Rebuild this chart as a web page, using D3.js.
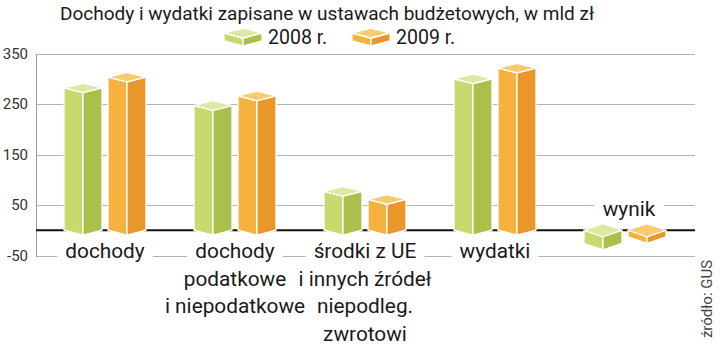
<!DOCTYPE html>
<html><head><meta charset="utf-8">
<script src="https://cdn.jsdelivr.net/npm/d3@7"></script>
<style>
html,body{margin:0;padding:0;background:#fff;}
svg{display:block;font-family:Roboto, "Liberation Sans", Arial, sans-serif;}
</style></head>
<body>
<svg id="chart" width="720" height="346"></svg>
<script>
const title = "Dochody i wydatki zapisane w ustawach budżetowych, w mld zł";
const categories = ["dochody", "dochody podatkowe", "środki z UE", "wydatki", "wynik"];
const categoryLines = [
  ["dochody"],
  ["dochody", "podatkowe", "i niepodatkowe"],
  ["środki z UE", "i innych źródeł", "niepodleg.", "zwrotowi"],
  ["wydatki"],
  ["wynik"]
];
const seriesNames = ["2008 r.", "2009 r."];
const values2008 = [281.8, 247, 77, 300, -26];
const values2009 = [303.2, 266, 61, 321, -13];
const yTicks = [-50, 50, 150, 250, 350];
const source = "źródło: GUS";

const palettes = [
  {top: "#dce9a2", left: "#c6da6e", right: "#a9c04a"},
  {top: "#f9cb6f", left: "#f5b23f", right: "#e9962a"}
];

const svg = d3.select("#chart");
const y = d3.scaleLinear().domain([-50, 350]).range([255.5, 53.5]);
const x = d3.scalePoint().domain(categories).range([105, 625]);
const offsets = [-22, 22];
const hw = 19;

// title
svg.append("text").attr("x", 327).attr("y", 20).attr("text-anchor", "middle")
  .attr("font-size", 19).attr("fill", "#1a1a1a").text(title);

// gridlines
const grid = svg.append("g");
grid.selectAll("line").data(yTicks).join("line")
  .attr("x1", 36).attr("x2", 695)
  .attr("y1", d => Math.round(y(d)) + 0.5).attr("y2", d => Math.round(y(d)) + 0.5)
  .attr("stroke", "#b3b3b3").attr("stroke-width", 1);
// axis line
svg.append("line").attr("x1", 36.5).attr("x2", 36.5)
  .attr("y1", Math.round(y(350))).attr("y2", Math.round(y(-50)) + 1)
  .attr("stroke", "#9a9a9a").attr("stroke-width", 1);
// tick labels
svg.append("g").selectAll("text").data(yTicks).join("text")
  .attr("x", 28).attr("y", d => y(d) + 5).attr("text-anchor", "end")
  .attr("font-size", 15).attr("fill", "#333").text(d => d);

// zero line
svg.append("line").attr("x1", 36).attr("x2", 695)
  .attr("y1", y(0)).attr("y2", y(0)).attr("stroke", "#111").attr("stroke-width", 2);

function box(g, cx, yHi, yLo, pal, dd) {
  const pts = a => a.map(p => p.join(",")).join(" ");
  g.append("polygon").attr("points", pts([[cx-hw,yHi],[cx,yHi+dd],[cx,yLo+dd],[cx-hw,yLo]]))
    .attr("fill", pal.left).attr("stroke", "#fff").attr("stroke-width", 1.3).attr("stroke-linejoin", "round");
  g.append("polygon").attr("points", pts([[cx,yHi+dd],[cx+hw,yHi],[cx+hw,yLo],[cx,yLo+dd]]))
    .attr("fill", pal.right).attr("stroke", "#fff").attr("stroke-width", 1.3).attr("stroke-linejoin", "round");
  g.append("polygon").attr("points", pts([[cx-hw,yHi],[cx,yHi-dd],[cx+hw,yHi],[cx,yHi+dd]]))
    .attr("fill", pal.top).attr("stroke", "#fff").attr("stroke-width", 1.3).attr("stroke-linejoin", "round");
}

// category labels (drawn before bars so label backgrounds break gridlines)
const labG = svg.append("g");
categories.forEach((c, i) => {
  const lines = categoryLines[i];
  const cx = x(c) + (i === 4 ? 4 : 0);
  const isWynik = i === 4;
  lines.forEach((ln, j) => {
    const by = isWynik ? y(0) - 14 : 258 + j * 27.5;
    const t = labG.append("text").attr("x", cx).attr("y", by).attr("text-anchor", "middle")
      .attr("font-size", 20.8).attr("fill", "#1a1a1a").text(ln);
    if (j === 0) {
      const bb = t.node().getBBox();
      labG.insert("rect", "text").attr("x", bb.x - 8).attr("y", bb.y)
        .attr("width", bb.width + 16).attr("height", bb.height).attr("fill", "#fff");
    }
  });
});

// bars
const barsG = svg.append("g");
[values2008, values2009].forEach((vals, s) => {
  vals.forEach((v, i) => {
    const cx = x(categories[i]) + offsets[s];
    const yHi = Math.min(y(v), y(0));
    const yLo = Math.max(y(v), y(0));
    box(barsG, cx, yHi, yLo, palettes[s], v < 0 ? 6.5 : 4.8);
  });
});

// legend
const legG = svg.append("g");
const legX = [243, 371];
seriesNames.forEach((n, s) => {
  box(legG, legX[s], 33, 41, palettes[s], 5);
  legG.append("text").attr("x", legX[s] + 25).attr("y", 44).attr("font-size", 19.5)
    .attr("fill", "#1a1a1a").text(n);
});

// source
svg.append("text").attr("transform", "translate(712,299) rotate(-90)")
  .attr("text-anchor", "middle").attr("font-size", 15).attr("fill", "#444").text(source);
</script>
</body></html>
